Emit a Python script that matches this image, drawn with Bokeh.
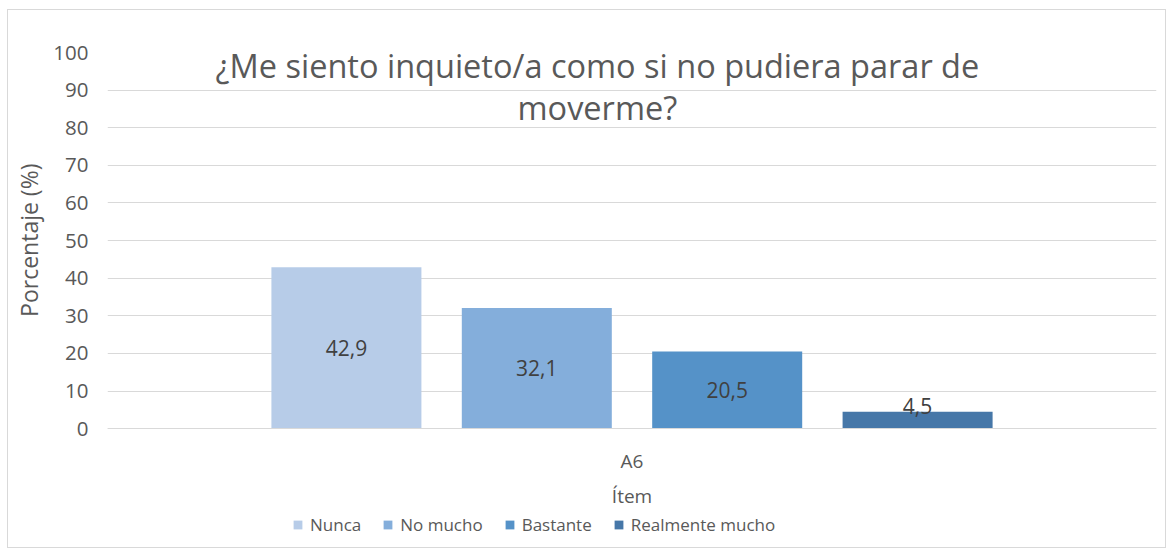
from bokeh.plotting import figure
from bokeh.models import FactorRange, Range1d, ColumnDataSource, Label, Legend, LegendItem, FixedTicker
from bokeh.transform import dodge
from bokeh.core.properties import value
from bokeh.embed import file_html
from bokeh.resources import INLINE

items = ["A6"]
categories = ["Nunca", "No mucho", "Bastante", "Realmente mucho"]
values = [42.9, 32.1, 20.5, 4.5]
colors = ["#B7CCE8", "#84AEDB", "#5592C8", "#4677A8"]
y_ticks = [0, 10, 20, 30, 40, 50, 60, 70, 80, 90, 100]
title_lines = ["¿Me siento inquieto/a como si no pudiera parar de", "moverme?"]
y_label = "Porcentaje (%)"

FONT = "Open Sans"
GRAY = "#595959"

p = figure(x_range=FactorRange(factors=items, range_padding=0), y_range=Range1d(-31.6, 100),
           frame_width=1049, frame_height=495, output_backend="svg", toolbar_location=None,
           min_border_left=99, min_border_right=9, min_border_top=42, min_border_bottom=0)
p.styles = {"margin-left": "7px", "margin-top": "9px", "border": "1px solid #d9d9d9"}
p.outline_line_color = None
p.background_fill_color = "white"
p.border_fill_color = "white"

p.xgrid.grid_line_color = None
p.ygrid.grid_line_color = "#d9d9d9"
p.ygrid.grid_line_width = 1

p.yaxis.ticker = FixedTicker(ticks=y_ticks)
p.yaxis.axis_line_color = None
p.yaxis.major_tick_line_color = None
p.yaxis.minor_tick_line_color = None
p.yaxis.major_tick_out = 0
p.yaxis.major_label_standoff = 19
p.yaxis.major_label_text_font = FONT
p.yaxis.major_label_text_font_size = "20.5px"
p.yaxis.major_label_text_color = GRAY
# leading non-breaking spaces lift the centred label to the middle of the 0-100 span
p.yaxis.axis_label = "\u00a0" * 20 + y_label
p.yaxis.axis_label_text_font = FONT
p.yaxis.axis_label_text_font_size = "23px"
p.yaxis.axis_label_text_font_style = "normal"
p.yaxis.axis_label_text_color = GRAY
p.yaxis.axis_label_standoff = 5

p.xaxis.fixed_location = 0
p.xaxis.axis_line_color = "#d9d9d9"
p.xaxis.major_tick_line_color = None
p.xaxis.minor_tick_line_color = None
p.xaxis.major_tick_out = 0
p.xaxis.major_label_standoff = 19
p.xaxis.major_label_text_font = FONT
p.xaxis.major_label_text_font_size = "19px"
p.xaxis.major_label_text_color = GRAY
p.xaxis.axis_label = "Ítem"
p.xaxis.axis_label_text_font = FONT
p.xaxis.axis_label_text_font_size = "19px"
p.xaxis.axis_label_text_font_style = "normal"
p.xaxis.axis_label_text_color = GRAY
p.xaxis.axis_label_standoff = 6

bar_width = 0.143
step = 0.1815
legend_items = []
for i, (cat, v, c) in enumerate(zip(categories, values, colors)):
    off = (i - 1.5) * step
    big = v > 10
    src = ColumnDataSource(dict(x=items, top=[v], ly=[v / 2 if big else v],
                                txt=[f"{v:.1f}".replace(".", ",")]))
    r = p.vbar(x=dodge("x", off, range=p.x_range), top="top", width=bar_width, source=src,
               fill_color=c, line_color=None)
    p.text(x=dodge("x", off, range=p.x_range), y="ly", text="txt", source=src,
           text_align="center", text_baseline="middle" if big else "bottom",
           y_offset=0 if big else 2,
           text_font=value(FONT), text_font_size="21px", text_color="#404040")
    legend_items.append(LegendItem(label=cat, renderers=[r]))

legend = Legend(items=legend_items, orientation="horizontal", location=(185, 11),
                label_text_font=FONT, label_text_font_size="17px", label_text_color=GRAY,
                glyph_width=11, glyph_height=11, label_standoff=7, spacing=21,
                padding=0, margin=0, border_line_color=None, background_fill_alpha=0)
p.add_layout(legend, "center")

for txt, y in zip(title_lines, [96.6, 85.4]):
    p.add_layout(Label(x=0.467, y=y, text=txt, text_align="center", text_baseline="middle",
                       text_font=FONT, text_font_size="32.5px", text_color=GRAY))

open("out.html", "w").write(file_html(p, INLINE))
